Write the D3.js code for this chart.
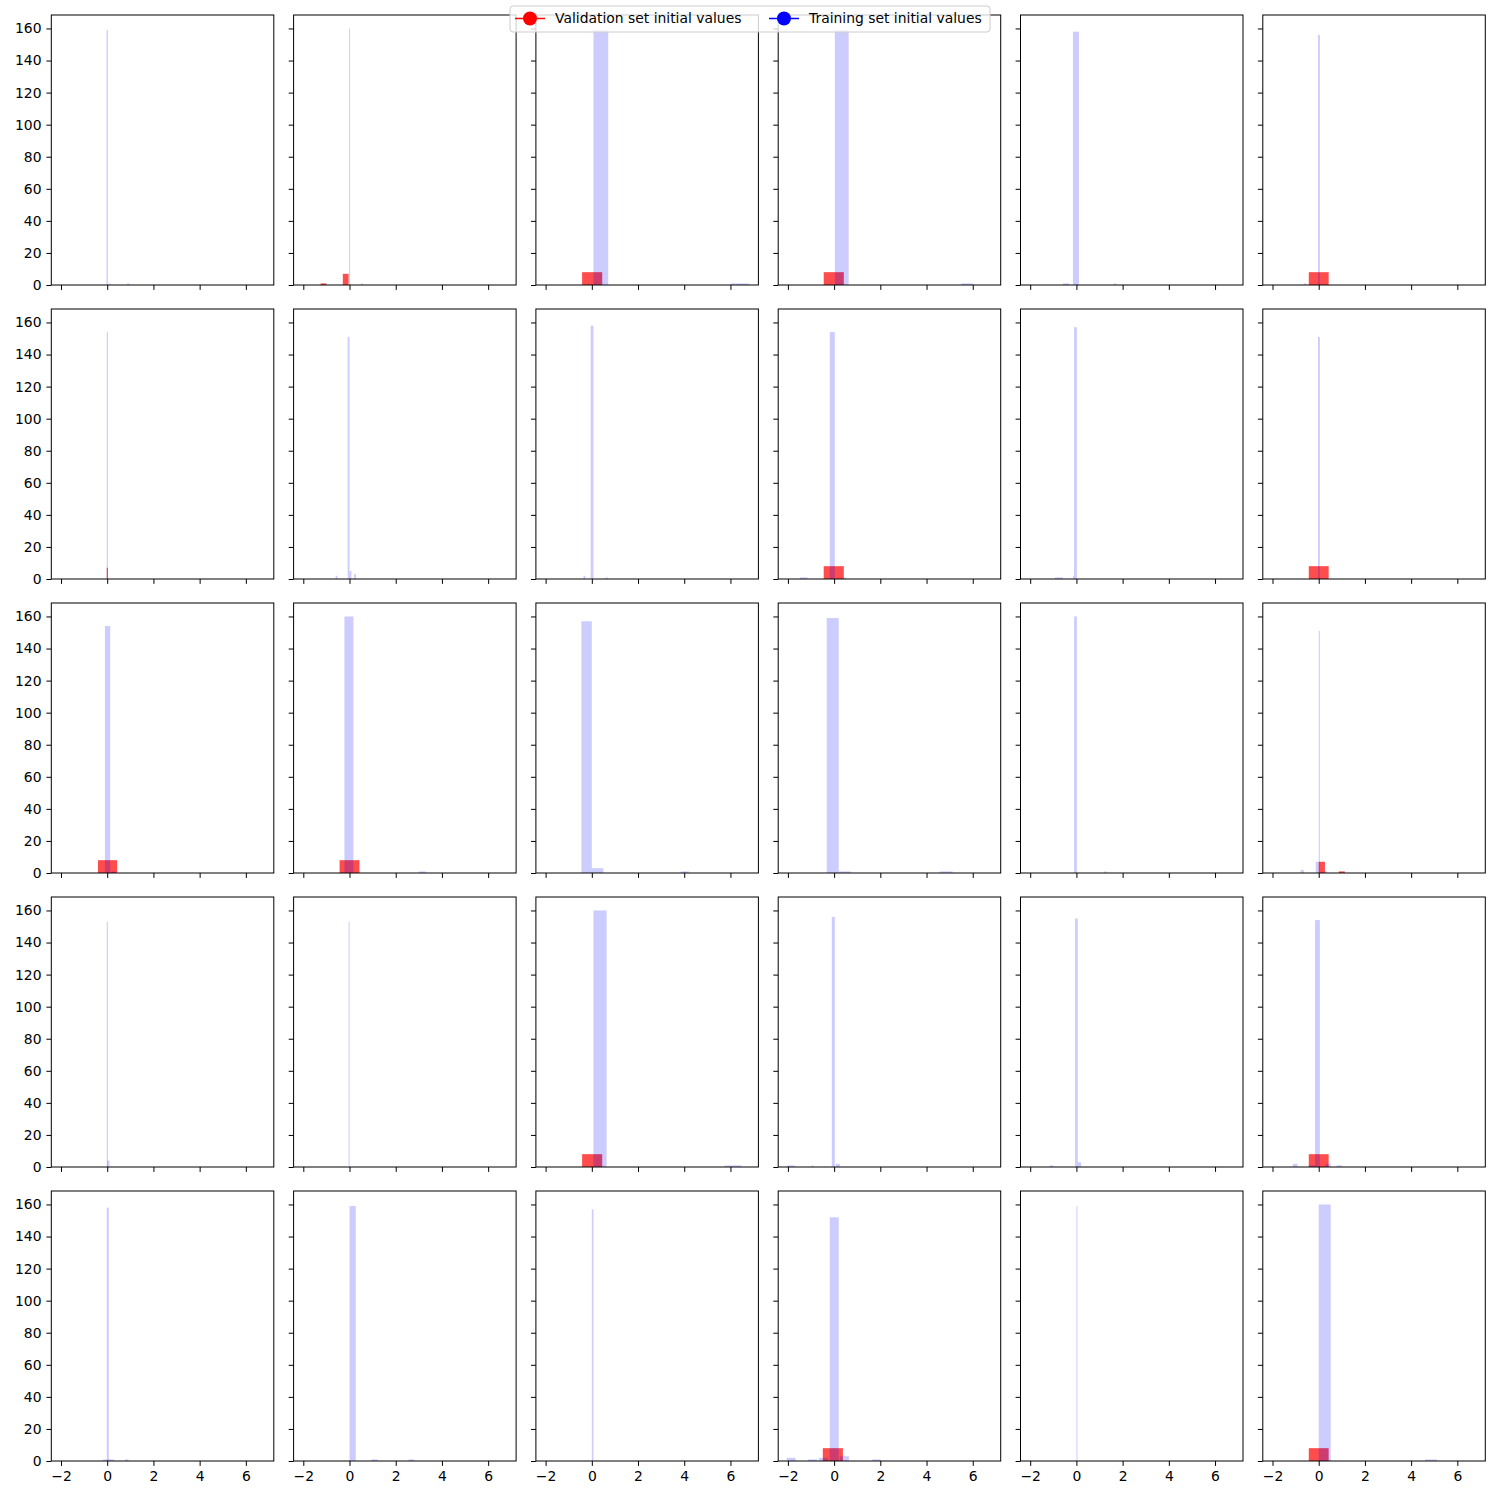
<!DOCTYPE html>
<html>
<head>
<meta charset="utf-8">
<script src="https://cdn.jsdelivr.net/npm/d3@7"></script>
<style>
  body { margin: 0; background: #fff; }
  text { font-family: "DejaVu Sans", sans-serif; }
</style>
</head>
<body>
<svg id="chart" width="1500" height="1500"></svg>
<script>
// panels are listed row by row, 6 per row; each bin is [x0, x1, count]
const trainBins = [
  [[-0.03, 0.03, 159], [0.1, 0.14, 1], [0.87, 0.95, 1]],
  [[-0.02, 0.02, 160], [0.5, 0.58, 1]],
  [[0.07, 0.71, 159], [6.0, 6.8, 1]],
  [[0.03, 0.63, 159], [5.5, 6.0, 1]],
  [[-0.15, 0.11, 158], [-0.58, -0.32, 1], [1.63, 1.72, 1]],
  [[-0.03, 0.05, 156], [-0.65, -0.55, 1]],

  [[-0.02, 0.03, 154]],
  [[-0.08, 0.0, 151], [-0.6, -0.52, 2], [0.0, 0.08, 5], [0.2, 0.28, 3]],
  [[-0.05, 0.07, 158], [-0.36, -0.28, 2], [0.6, 0.68, 1]],
  [[-0.19, 0.03, 154], [-1.48, -1.15, 1], [0.45, 0.52, 1]],
  [[-0.1, 0.02, 157], [-0.93, -0.58, 1], [-0.15, -0.1, 2]],
  [[-0.03, 0.05, 151]],

  [[-0.1, 0.13, 154], [0.2, 0.35, 1]],
  [[-0.22, 0.17, 160], [3.0, 3.3, 1]],
  [[-0.45, 0.0, 157], [0.0, 0.5, 3], [3.85, 4.2, 1]],
  [[-0.32, 0.2, 159], [0.2, 0.72, 1], [4.57, 5.13, 1]],
  [[-0.1, 0.02, 160], [1.2, 1.3, 1]],
  [[0.0, 0.05, 151], [-0.13, 0.0, 7], [-0.78, -0.65, 2], [0.27, 0.37, 1]],

  [[-0.02, 0.03, 153], [0.0, 0.1, 4]],
  [[-0.04, 0.0, 153]],
  [[0.07, 0.64, 160], [5.75, 6.48, 1]],
  [[-0.1, 0.03, 156], [-2.05, -1.7, 1], [-0.97, -0.9, 1], [0.07, 0.25, 2]],
  [[-0.06, 0.06, 155], [0.06, 0.2, 3], [-1.15, -1.0, 1]],
  [[-0.16, 0.05, 154], [-1.12, -0.92, 2], [0.3, 0.52, 2], [0.78, 1.0, 1], [-0.43, -0.16, 1]],

  [[-0.02, 0.07, 158], [-0.18, 0.3, 1], [0.77, 0.92, 1]],
  [[0.0, 0.27, 159], [0.95, 1.22, 1], [2.55, 2.8, 1]],
  [[0.0, 0.07, 157]],
  [[-0.19, 0.2, 152], [-2.05, -1.67, 2], [-1.13, -0.74, 1], [-0.66, -0.27, 2], [0.25, 0.64, 3], [1.65, 2.02, 1]],
  [[0.0, 0.03, 159]],
  [[0.0, 0.52, 160], [4.6, 5.12, 1]]
];

const validBins = [
  [],
  [[-1.25, -1.0, 1], [-0.29, -0.04, 7]],
  [[-0.42, 0.45, 8]],
  [[-0.45, 0.42, 8]],
  [],
  [[-0.43, 0.43, 8]],

  [[-0.02, 0.03, 7]],
  [],
  [],
  [[-0.45, 0.42, 8]],
  [],
  [[-0.43, 0.43, 8]],

  [[-0.4, 0.43, 8]],
  [[-0.43, 0.43, 8]],
  [],
  [],
  [],
  [[0.0, 0.27, 7], [0.87, 1.13, 1]],

  [],
  [],
  [[-0.42, 0.45, 8]],
  [],
  [],
  [[-0.43, 0.43, 8]],

  [],
  [],
  [],
  [[-0.49, 0.38, 8]],
  [],
  [[-0.43, 0.43, 8]]
];

const xTicks = [-2, 0, 2, 4, 6];
const yTicks = [0, 20, 40, 60, 80, 100, 120, 140, 160];
const legendLabels = ["Validation set initial values", "Training set initial values"];
const legendColors = ["#ff0000", "#0000ff"];

const nRows = 5, nCols = 6;
const panelW = 222.5, panelH = 270;
const left0 = 51.3, top0 = 15, stepX = 242.3, stepY = 294;
const fontSize = 13.9;

const svg = d3.select("#chart");

const x = d3.scaleLinear().domain([-2.42, 7.21]).range([0, panelW]);
const y = d3.scaleLinear().domain([0, 168.4]).range([panelH, 0]);

for (let i = 0; i < nRows * nCols; i++) {
  const r = Math.floor(i / nCols), c = i % nCols;
  const g = svg.append("g")
    .attr("transform", "translate(" + (left0 + c * stepX) + "," + (top0 + r * stepY) + ")");

  // red first, the light blue is laid over it
  g.append("g").selectAll("rect")
    .data(validBins[i])
    .join("rect")
    .attr("x", d => x(d[0]))
    .attr("width", d => Math.max(1, x(d[1]) - x(d[0])))
    .attr("y", d => y(d[2]))
    .attr("height", d => y(0) - y(d[2]))
    .attr("fill", "rgba(255,0,0,0.7)");

  g.append("g").selectAll("rect")
    .data(trainBins[i])
    .join("rect")
    .attr("x", d => x(d[0]))
    .attr("width", d => Math.max(1, x(d[1]) - x(d[0])))
    .attr("y", d => y(d[2]))
    .attr("height", d => y(0) - y(d[2]))
    .attr("fill", "rgba(0,0,255,0.2)");

  const xAxis = d3.axisBottom(x).tickValues(xTicks).tickSize(4.9).tickPadding(4.9)
    .tickFormat(r === nRows - 1 ? d => d < 0 ? "\u2212" + Math.abs(d) : d : "");
  const yAxis = d3.axisLeft(y).tickValues(yTicks).tickSize(4.9).tickPadding(4.9)
    .tickFormat(c === 0 ? d => d : "");

  const gx = g.append("g").attr("transform", "translate(0," + panelH + ")").call(xAxis);
  const gy = g.append("g").call(yAxis);
  [gx, gy].forEach(a => {
    a.select(".domain").remove();
    a.selectAll("text").attr("font-size", fontSize).attr("fill", "#000")
      .attr("font-family", "DejaVu Sans, sans-serif");
    a.selectAll("line").attr("stroke", "#000");
  });

  g.append("rect")
    .attr("width", panelW).attr("height", panelH)
    .attr("fill", "none").attr("stroke", "#000").attr("stroke-width", 1);
}

// legend
const lg = svg.append("g").attr("transform", "translate(510,6)");
lg.append("rect")
  .attr("width", 480).attr("height", 26).attr("rx", 3)
  .attr("fill", "rgba(255,255,255,0.8)").attr("stroke", "#ccc");
const entryX = [5, 259];
legendLabels.forEach((lab, k) => {
  const e = lg.append("g").attr("transform", "translate(" + entryX[k] + ",12.5)");
  e.append("line").attr("x1", 0).attr("x2", 30).attr("stroke", legendColors[k]).attr("stroke-width", 1.5);
  e.append("circle").attr("cx", 15).attr("r", 7).attr("fill", legendColors[k]);
  e.append("text").attr("x", 40).attr("dy", "0.35em").attr("font-size", fontSize).text(lab);
});
</script>
</body>
</html>
